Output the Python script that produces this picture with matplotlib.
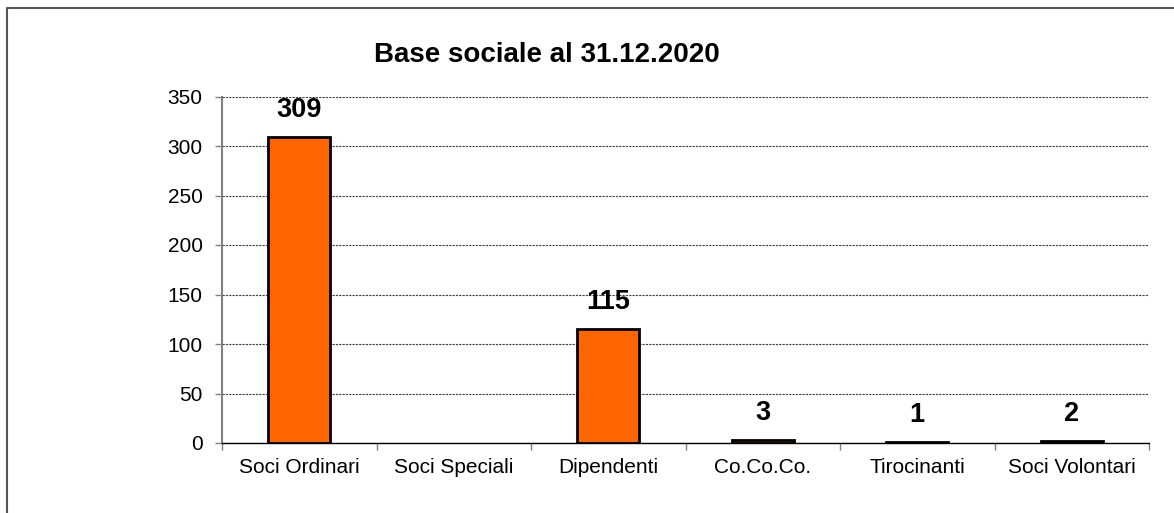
import numpy as np
import matplotlib.pyplot as plt
from matplotlib.lines import Line2D

categories = ['Soci Ordinari', 'Soci Speciali', 'Dipendenti', 'Co.Co.Co.', 'Tirocinanti', 'Soci Volontari']
values = [309, 0, 115, 3, 1, 2]
labels = ['309', '', '115', '3', '1', '2']
title = 'Base sociale al 31.12.2020'

plt.rcParams['font.family'] = ['Liberation Sans', 'DejaVu Sans']

fig = plt.figure(figsize=(11.74, 5.13), dpi=100)
ax = fig.add_axes([222 / 1174, 1 - 443 / 513, (1149 - 222) / 1174, (443 - 96.5) / 513])

x = np.arange(len(categories))
edges = ['black' if v > 0 else 'none' for v in values]
bars = ax.bar(x, values, width=0.4, color='#FF6600', edgecolor=edges, linewidth=2, zorder=3)
for b, lab in zip(bars, labels):
    if lab:
        ax.annotate(lab, (b.get_x() + b.get_width() / 2, b.get_height()),
                    xytext=(0, 10), textcoords='offset points', ha='center', va='bottom',
                    fontsize=19.5, fontweight='bold')

ax.set_xlim(-0.5, len(categories) - 0.5)
ax.set_ylim(0, 350)
ax.set_yticks(np.arange(0, 351, 50))
ax.yaxis.grid(True, linestyle=(0, (2, 1)), color='#404040', linewidth=0.8, zorder=0)

ax.set_xticks(x)
ax.set_xticklabels(categories)
ax.set_xticks(np.arange(-0.5, len(categories), 1), minor=True)
ax.tick_params(axis='x', which='major', length=0, pad=11, labelsize=15)
ax.tick_params(axis='x', which='minor', length=5, width=1, color='#808080', direction='out')
ax.tick_params(axis='y', length=5, width=1, color='#808080', pad=9, labelsize=15)

for s in ['top', 'right']:
    ax.spines[s].set_visible(False)
ax.spines['left'].set_color('#808080')
ax.spines['left'].set_linewidth(1.5)
ax.spines['bottom'].set_color('black')
ax.spines['bottom'].set_linewidth(1)

fig.text(547 / 1174, 1 - 55 / 513, title, ha='center', va='center', fontsize=20, fontweight='bold')

# outer frame (only top and left edges visible)
fig.add_artist(Line2D([7 / 1174, 7 / 1174, 1], [0, 1 - 8 / 513, 1 - 8 / 513],
                      transform=fig.transFigure, color='#555555', linewidth=1.5))

fig.savefig('out.png', dpi=100)
